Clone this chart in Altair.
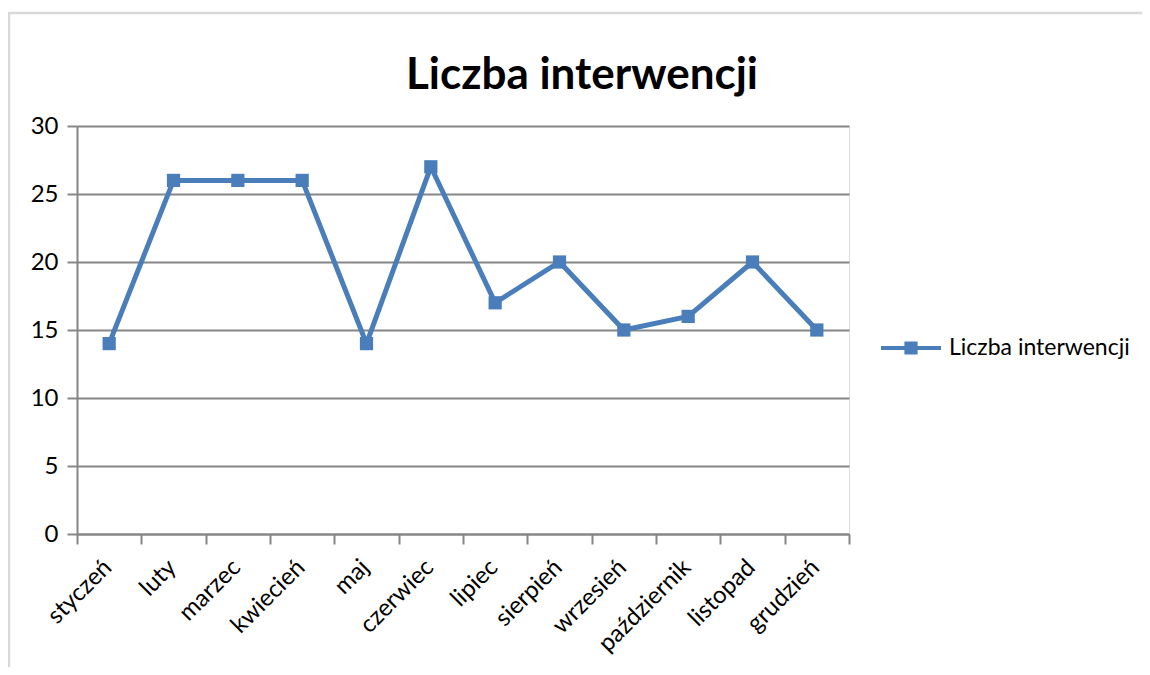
import altair as alt
import pandas as pd

months = ["styczeń", "luty", "marzec", "kwiecień", "maj", "czerwiec",
          "lipiec", "sierpień", "wrzesień", "październik", "listopad", "grudzień"]
values = [14, 26, 26, 26, 14, 27, 17, 20, 15, 16, 20, 15]
series_name = "Liczba interwencji"
y_ticks = [0, 5, 10, 15, 20, 25, 30]

df = pd.DataFrame({"month": months, "value": values, "series": series_name})

BLUE = "#4a7ebb"
GRAY = "#868686"
FONT = "Lato"

legend_path = ("M-1,-0.07H1V0.07H-1Z "
               "M-0.22,-0.22H0.22V0.22H-0.22Z")

base = alt.Chart(df)

line = base.mark_line(
    color=BLUE, strokeWidth=5,
    point=alt.OverlayMarkDef(shape="square", size=175, filled=True, color=BLUE, opacity=1),
).encode(
    x=alt.X("month:N", sort=months, title=None,
            scale=alt.Scale(paddingInner=0, paddingOuter=0),
            axis=alt.Axis(labelAngle=-45, tickBand="extent", tickSize=10,
                          tickColor=GRAY, tickWidth=2, domainColor=GRAY, domainWidth=2,
                          labelFont=FONT, labelFontSize=24, labelColor="#000000",
                          labelAlign="right", labelBaseline="top",
                          labelOffset=-10, labelPadding=11, grid=False)),
    y=alt.Y("value:Q", title=None,
            scale=alt.Scale(domain=[0, 30], nice=False),
            axis=alt.Axis(values=y_ticks, tickSize=10, tickColor=GRAY, tickWidth=2,
                          domainColor=GRAY, domainWidth=2, gridColor=GRAY, gridWidth=2,
                          labelFont=FONT, labelFontSize=24, labelColor="#000000",
                          labelPadding=9)),
    color=alt.Color("series:N", title=None,
                    scale=alt.Scale(range=[BLUE]),
                    legend=alt.Legend(orient="none", legendX=804, legendY=192,
                                      symbolType=legend_path, symbolSize=3600,
                                      symbolFillColor=BLUE, symbolStrokeWidth=0,
                                      labelFont=FONT, labelFontSize=23, labelLimit=0,
                                      labelColor="#000000", labelOffset=8)),
)

border = alt.Chart(pd.DataFrame({"a": [0]})).mark_rect(
    fill=None, stroke="#d9d9d9", strokeWidth=2.5
).encode(
    x=alt.value(-68), x2=alt.value(1120), y=alt.value(-113), y2=alt.value(600)
)

chart = alt.layer(border, line).properties(
    width=772, height=408,
    padding={"left": 69, "top": 118, "right": 293, "bottom": 133},
    autosize=alt.AutoSizeParams(type="none"),
    title=alt.TitleParams(series_name, font=FONT, fontSize=44, fontWeight="bold",
                          color="#000000", anchor="middle", frame="group",
                          dx=119, offset=-130, baseline="bottom"),
).configure_view(stroke=None).configure(background="white")

chart.save("out.html", embed_options={"renderer": "svg", "actions": False})
